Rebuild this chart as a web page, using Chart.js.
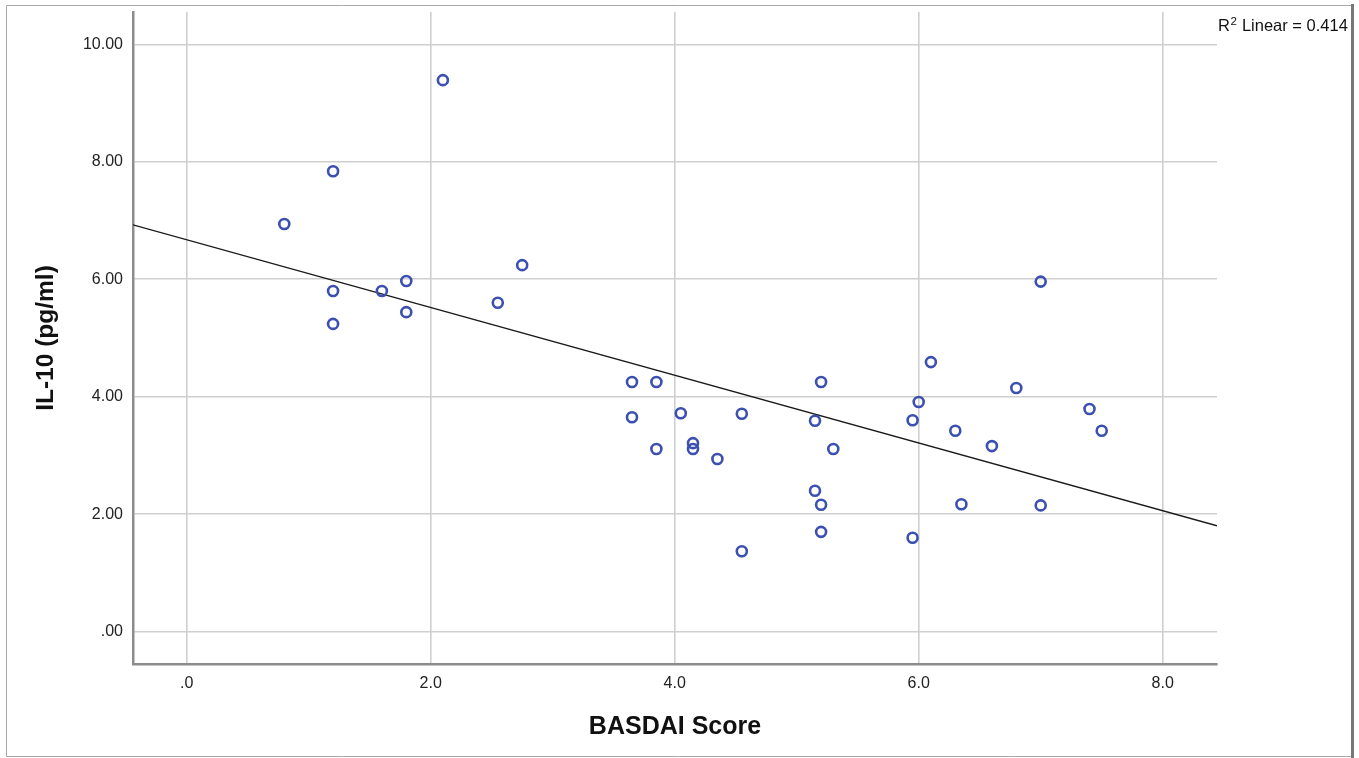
<!DOCTYPE html>
<html>
<head>
<meta charset="utf-8">
<script src="https://cdn.jsdelivr.net/npm/chart.js@4/dist/chart.umd.min.js"></script>
<style>
  html, body { margin: 0; padding: 0; background: #ffffff; }
  #wrap { width: 1359px; height: 758px; }
</style>
</head>
<body>
<div id="wrap"><canvas id="c" width="1359" height="758"></canvas></div>
<script>
// ---- data ----
const basdai = [0.80, 1.20, 1.20, 1.20, 1.60, 1.80, 1.80, 2.10, 2.55, 2.75,
                3.65, 3.85, 3.65, 3.85, 4.05, 4.15, 4.15, 4.35, 4.55, 4.55,
                5.20, 5.15, 5.30, 5.15, 5.20, 5.20, 5.95, 6.00, 6.10, 5.95,
                6.30, 6.35, 6.60, 6.80, 7.00, 7.00, 7.40, 7.50];
const il10   = [6.94, 7.84, 5.80, 5.24, 5.80, 5.97, 5.44, 9.39, 5.60, 6.24,
                4.25, 4.25, 3.65, 3.11, 3.72, 3.21, 3.11, 2.94, 3.71, 1.37,
                4.25, 3.59, 3.11, 2.40, 2.16, 1.70, 3.60, 3.91, 4.59, 1.60,
                3.42, 2.17, 3.16, 4.15, 5.96, 2.15, 3.79, 3.42];
const xTicks = [0, 2, 4, 6, 8];
const yTicks = [0, 2, 4, 6, 8, 10];
const xRange = [-0.44, 8.445];
const yRange = [-0.55, 10.55];
const xTitle = 'BASDAI Score';
const yTitle = 'IL-10 (pg/ml)';
const fitLabel = ['R', '2', ' Linear = 0.414'];

// ---- least-squares fit line ----
const n = basdai.length;
const mx = basdai.reduce((a, b) => a + b, 0) / n;
const my = il10.reduce((a, b) => a + b, 0) / n;
let sxy = 0, sxx = 0;
for (let i = 0; i < n; i++) { sxy += (basdai[i] - mx) * (il10[i] - my); sxx += (basdai[i] - mx) ** 2; }
const slope = sxy / sxx;
const intercept = my - slope * mx;
const fitPoints = xRange.map(x => ({ x: x, y: intercept + slope * x }));

const points = basdai.map((x, i) => ({ x: x, y: il10[i] }));

const FONT = "'Liberation Sans', Arial, sans-serif";

const framePlugin = {
  id: 'frame',
  beforeDraw(chart) {
    const ctx = chart.ctx;
    ctx.save();
    ctx.fillStyle = '#ffffff';
    ctx.fillRect(0, 0, chart.width, chart.height);
    ctx.strokeStyle = '#a8a8a8';
    ctx.lineWidth = 1;
    ctx.beginPath();
    ctx.moveTo(1351, 5.5); ctx.lineTo(6.5, 5.5); ctx.lineTo(6.5, 756.5); ctx.lineTo(1351, 756.5);
    ctx.stroke();
    ctx.strokeStyle = '#777777';
    ctx.lineWidth = 3;
    ctx.beginPath();
    ctx.moveTo(1352.5, 4); ctx.lineTo(1352.5, 758);
    ctx.stroke();
    ctx.restore();
  },
  afterDraw(chart) {
    const ctx = chart.ctx;
    ctx.save();
    ctx.fillStyle = '#111111';
    ctx.textBaseline = 'alphabetic';
    ctx.textAlign = 'left';
    let x = chart.chartArea.right + 1;
    const base = 30.5;
    ctx.font = '16.5px ' + FONT;
    ctx.fillText(fitLabel[0], x, base);
    x += ctx.measureText(fitLabel[0]).width;
    ctx.font = '11.5px ' + FONT;
    ctx.fillText(fitLabel[1], x + 0.5, base - 6);
    x += ctx.measureText(fitLabel[1]).width + 1;
    ctx.font = '16.5px ' + FONT;
    ctx.fillText(fitLabel[2], x, base);
    ctx.restore();
  }
};

new Chart(document.getElementById('c'), {
  type: 'scatter',
  data: {
    datasets: [
      {
        type: 'line',
        data: fitPoints,
        borderColor: '#1a1a1a',
        borderWidth: 1.3,
        pointRadius: 0,
        fill: false,
        tension: 0,
        order: 2
      },
      {
        data: points,
        pointRadius: 5,
        pointBorderWidth: 2.6,
        pointBorderColor: '#3b50b0',
        pointBackgroundColor: 'rgba(255,255,255,0)',
        order: 1
      }
    ]
  },
  options: {
    responsive: false,
    animation: false,
    devicePixelRatio: 1,
    events: [],
    layout: { padding: { left: 0, top: 12, right: 142, bottom: 0 } },
    plugins: { legend: { display: false }, tooltip: { enabled: false } },
    scales: {
      x: {
        type: 'linear',
        min: xRange[0],
        max: xRange[1],
        afterFit(scale) { scale.height = 94; scale.paddingLeft = 0; scale.paddingRight = 0; },
        afterBuildTicks(scale) { scale.ticks = xTicks.map(v => ({ value: v })); },
        ticks: {
          padding: 10,
          color: '#222222',
          font: { family: FONT, size: 16 },
          callback: v => v.toFixed(1).replace(/^0\./, '.')
        },
        grid: { color: '#cfcfcf', lineWidth: 1.6, drawTicks: false },
        border: { display: true, color: '#8c8c8c', width: 2.5 },
        title: {
          display: true,
          text: xTitle,
          color: '#111111',
          font: { family: FONT, size: 25, weight: 'bold' },
          padding: { top: 0, bottom: 16 }
        }
      },
      y: {
        type: 'linear',
        min: yRange[0],
        max: yRange[1],
        afterFit(scale) { scale.width = 133; scale.paddingTop = 0; scale.paddingBottom = 0; },
        afterBuildTicks(scale) { scale.ticks = yTicks.map(v => ({ value: v })); },
        ticks: {
          padding: 10,
          color: '#222222',
          font: { family: FONT, size: 16 },
          callback: v => v.toFixed(2).replace(/^0\./, '.')
        },
        grid: { color: '#cfcfcf', lineWidth: 1.6, drawTicks: false },
        border: { display: true, color: '#8c8c8c', width: 2.5 },
        title: {
          display: true,
          text: yTitle,
          color: '#111111',
          font: { family: FONT, size: 24.5, weight: 'bold' },
          padding: { top: 32, bottom: 0 }
        }
      }
    }
  },
  plugins: [framePlugin]
});
</script>
</body>
</html>
